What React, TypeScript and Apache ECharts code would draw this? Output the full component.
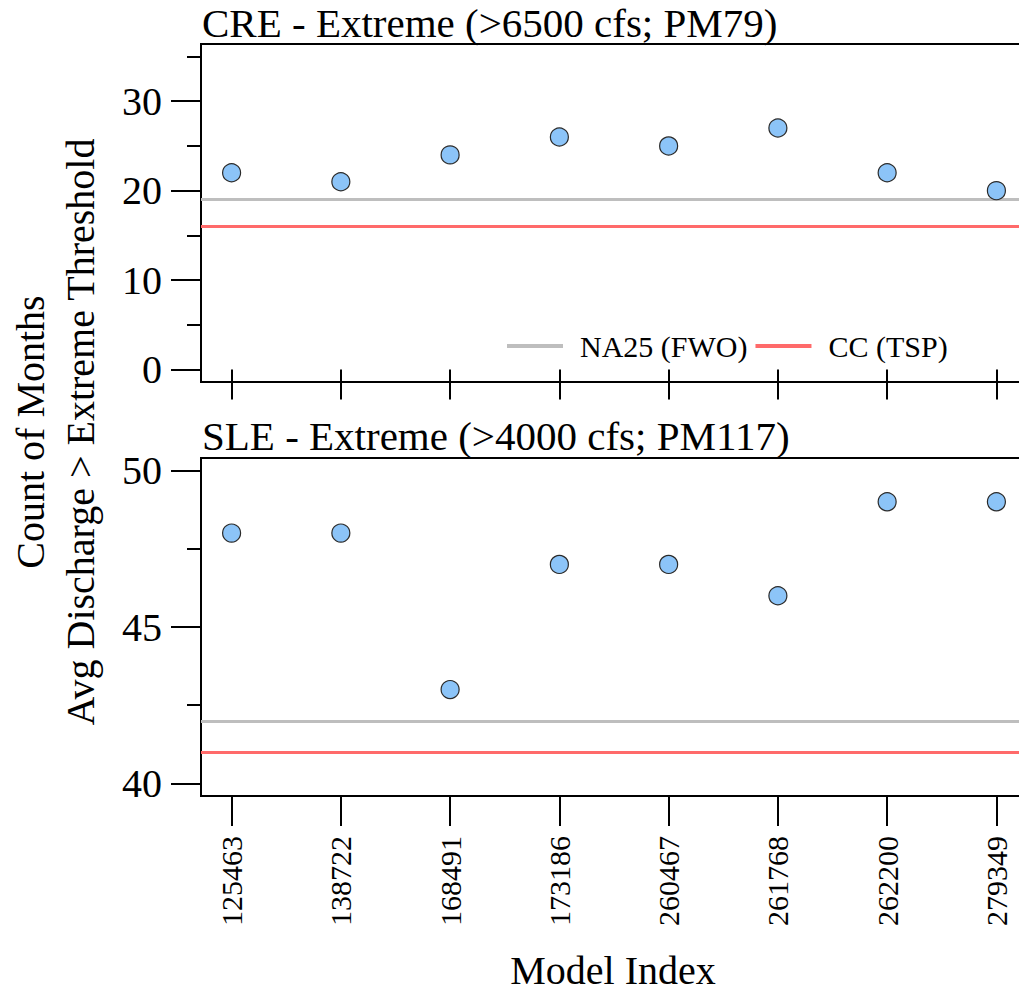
import React, { useEffect, useRef } from "react";
import * as echarts from "echarts";

const models = ["125463", "138722", "168491", "173186", "260467", "261768", "262200", "279349"];
const creValues = [22, 21, 24, 26, 25, 27, 22, 20];
const sleValues = [48, 48, 43, 47, 47, 46, 49, 49];
const refNames = ["NA25 (FWO)", "CC (TSP)"];
const refColors = ["#bebebe", "#ff6a6a"];
const creRefs = [19, 16];
const sleRefs = [42, 41];
const creTicks = [0, 10, 20, 30];
const creMinor = [5, 15, 25, 35];
const sleTicks = [40, 45, 50];
const sleMinor = [42.5, 47.5];
const titles = ["CRE - Extreme (>6500 cfs; PM79)", "SLE - Extreme (>4000 cfs; PM117)"];

const FONT = "'Liberation Serif', 'Times New Roman', serif";

export default function App() {
  const ref = useRef<HTMLDivElement>(null);
  useEffect(() => {
    if (!ref.current) return;
    const chart = echarts.init(ref.current, null, { renderer: "svg" });
    const xIdx = models.map((_, i) => i + 1);
    const grids = [
      { left: 201, top: 44, width: 826, height: 338 },
      { left: 201, top: 458, width: 826, height: 338 },
    ];
    const xAxes = [0, 1].map((g) => ({
      type: "value",
      gridIndex: g,
      min: 0.72,
      max: 8.28,
      axisLine: { show: false },
      splitLine: { show: false },
      axisTick: { show: true, customValues: xIdx, length: 30, lineStyle: { color: "#000", width: 2 } },
      axisLabel: {
        show: g === 1,
        customValues: xIdx,
        rotate: 90,
        margin: 40,
        fontSize: 30,
        fontFamily: FONT,
        color: "#000",
        formatter: (v: number) => models[Math.round(v) - 1] ?? "",
      },
    }));
    const mkY = (g: number, min: number, max: number, ticks: number[], minor: number[]) => [
      {
        type: "value",
        gridIndex: g,
        min,
        max,
        axisLine: { show: false },
        splitLine: { show: false },
        axisTick: { show: true, customValues: ticks, length: 30, lineStyle: { color: "#000", width: 2 } },
        axisLabel: { customValues: ticks, margin: 39, fontSize: 40, fontFamily: FONT, color: "#000" },
      },
      {
        type: "value",
        gridIndex: g,
        position: "left",
        min,
        max,
        axisLine: { show: false },
        splitLine: { show: false },
        axisTick: { show: true, customValues: minor, length: 14, lineStyle: { color: "#000", width: 2 } },
        axisLabel: { show: false },
      },
    ];
    const yAxes = [...mkY(0, -1.4, 36.4, creTicks, creMinor), ...mkY(1, 39.6, 50.4, sleTicks, sleMinor)];

    const panels = [
      { vals: creValues, refs: creRefs, yi: 0 },
      { vals: sleValues, refs: sleRefs, yi: 2 },
    ];
    const series: any[] = [];
    panels.forEach((p, g) => {
      refNames.forEach((name, k) => {
        series.push({
          type: "line",
          name,
          xAxisIndex: g,
          yAxisIndex: p.yi,
          data: [],
          color: refColors[k],
          markLine: {
            symbol: "none",
            silent: true,
            label: { show: false },
            lineStyle: { color: refColors[k], width: 3, type: "solid" },
            data: [{ yAxis: p.refs[k] }],
          },
        });
      });
      series.push({
        type: "scatter",
        xAxisIndex: g,
        yAxisIndex: p.yi,
        symbol: "circle",
        symbolSize: 18,
        itemStyle: { color: "#8cc4f8", borderColor: "#2a2a2a", borderWidth: 1.2, opacity: 1 },
        data: p.vals.map((v, i) => [xIdx[i], v]),
        z: 5,
      });
    });

    chart.setOption({
      animation: false,
      backgroundColor: "#fff",
      grid: grids.map((gr) => ({ ...gr, show: true, borderColor: "#000", borderWidth: 2, backgroundColor: "transparent" })),
      xAxis: xAxes,
      yAxis: yAxes,
      legend: {
        data: refNames,
        left: 507,
        top: 331,
        padding: 0,
        icon: "rect",
        itemWidth: 56,
        itemHeight: 4,
        itemGap: 8,
        textStyle: { fontSize: 30, fontFamily: FONT, color: "#000", padding: [0, 0, 0, 12] },
      },
      graphic: [
        { type: "text", x: 202, y: 23, style: { text: titles[0], font: `41px ${FONT}`, fill: "#000", verticalAlign: "middle", align: "left" } },
        { type: "text", x: 202, y: 436, style: { text: titles[1], font: `41px ${FONT}`, fill: "#000", verticalAlign: "middle", align: "left" } },
        { type: "text", x: 30, y: 432, rotation: Math.PI / 2, style: { text: "Count of Months", font: `40px ${FONT}`, fill: "#000", verticalAlign: "middle", align: "center" } },
        { type: "text", x: 80, y: 432, rotation: Math.PI / 2, style: { text: "Avg Discharge > Extreme Threshold", font: `40px ${FONT}`, fill: "#000", verticalAlign: "middle", align: "center" } },
        { type: "text", x: 613, y: 970, style: { text: "Model Index", font: `40px ${FONT}`, fill: "#000", verticalAlign: "middle", align: "center" } },
      ],
      series,
    });
    return () => chart.dispose();
  }, []);
  return (
    <div style={{ position: "absolute", left: 0, top: 0, width: 1019, height: 991, overflow: "hidden" }}>
      <div ref={ref} style={{ width: 1040, height: 991 }} />
    </div>
  );
}
